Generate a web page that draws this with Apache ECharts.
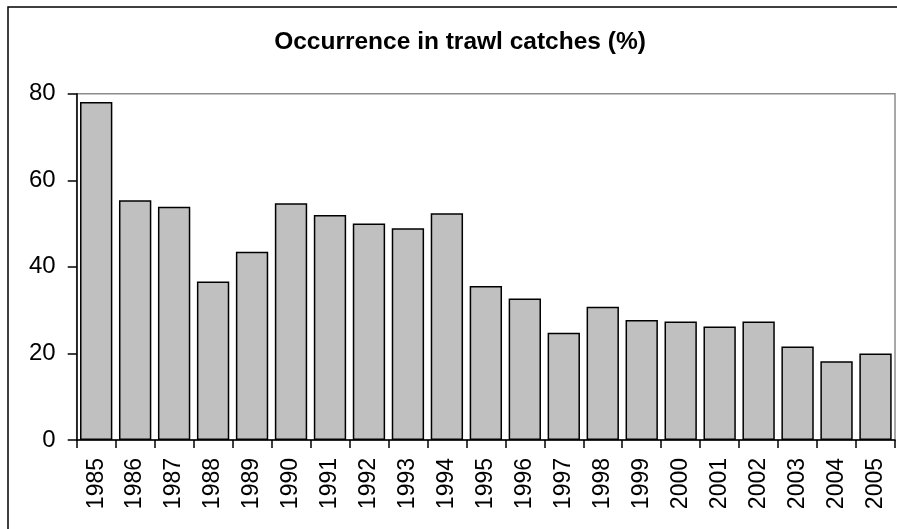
<!DOCTYPE html>
<html>
<head>
<meta charset="utf-8">
<script src="https://cdn.jsdelivr.net/npm/echarts@6/dist/echarts.min.js"></script>
<style>
html,body{margin:0;padding:0;background:#fff;}
#chart{width:897px;height:529px;}
</style>
</head>
<body>
<div id="chart"></div>
<script>
const titleText = 'Occurrence in trawl catches (%)';
const years = ['1985','1986','1987','1988','1989','1990','1991','1992','1993','1994','1995','1996','1997','1998','1999','2000','2001','2002','2003','2004','2005'];
const occurrence = [78.1, 55.4, 53.9, 36.6, 43.5, 54.7, 52.0, 50.0, 48.9, 52.4, 35.6, 32.7, 24.8, 30.8, 27.7, 27.4, 26.2, 27.4, 21.6, 18.2, 20.0];
const yMin = 0, yMax = 80, yStep = 20;

const chart = echarts.init(document.getElementById('chart'), null, {renderer: 'canvas'});
const font = '"Liberation Sans", Arial, sans-serif';
chart.setOption({
  animation: false,
  backgroundColor: '#fff',
  title: {
    text: titleText,
    left: 455,
    textAlign: 'center',
    top: 25,
    textStyle: {fontFamily: font, fontWeight: 'bold', fontSize: 24.5, color: '#000'}
  },
  graphic: [{
    type: 'rect',
    shape: {x: 8, y: 7, width: 1000, height: 1000},
    style: {fill: 'none', stroke: '#000', lineWidth: 1.5},
    silent: true
  }],
  grid: {
    left: 76.7, right: 2, top: 93.7, bottom: 89,
    show: true, borderColor: '#8c8c8c', borderWidth: 1.5, backgroundColor: 'transparent'
  },
  xAxis: {
    type: 'category',
    data: years,
    axisLine: {show: true, lineStyle: {color: '#000', width: 1.5}},
    axisTick: {show: true, length: 8, lineStyle: {color: '#000', width: 1.5}},
    axisLabel: {rotate: 90, margin: 18, fontFamily: font, fontSize: 23, color: '#000', interval: 0}
  },
  yAxis: {
    type: 'value',
    min: yMin, max: yMax, interval: yStep,
    splitLine: {show: false},
    axisLine: {show: true, lineStyle: {color: '#000', width: 1.5}},
    axisTick: {show: true, length: 9, lineStyle: {color: '#000', width: 1.5}},
    axisLabel: {margin: 21, fontFamily: font, fontSize: 24, color: '#000'}
  },
  series: [{
    type: 'bar',
    data: occurrence,
    barCategoryGap: '17%',
    itemStyle: {color: '#c0c0c0', borderColor: '#000', borderWidth: 1.5}
  }]
});
</script>
</body>
</html>
